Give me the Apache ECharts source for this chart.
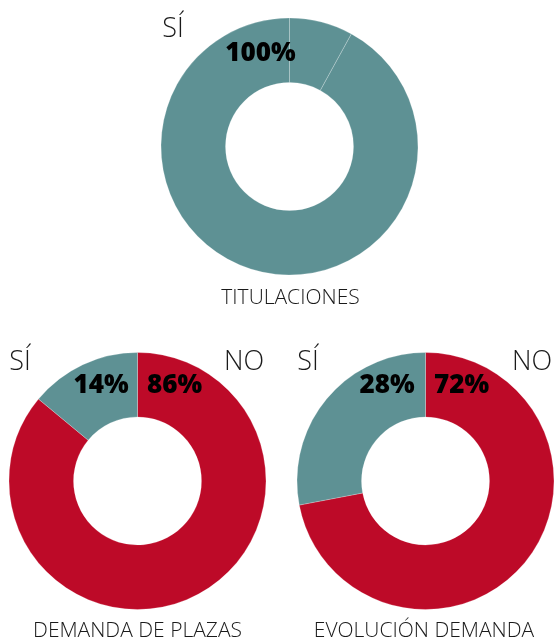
<!DOCTYPE html>
<html>
<head>
<meta charset="utf-8">
<script src="https://cdn.jsdelivr.net/npm/echarts@6/dist/echarts.min.js"></script>
<style>
  html, body { margin: 0; padding: 0; background: #fff; }
  #main { width: 554px; height: 641px; }
</style>
</head>
<body>
<div id="main"></div>
<script>
// datos de los tres anillos
var titles = ['TITULACIONES', 'DEMANDA DE PLAZAS', 'EVOLUCIÓN DEMANDA'];
var titulacionesValues = [8, 92];          // dos tramos, ambos "SÍ"
var demandaPlazas = { no: 86, si: 14 };
var evolucionDemanda = { no: 72, si: 28 };

var TEAL = '#5e9194';
var RED = '#bd0a28';
var FONT = '"Open Sans", "Noto Sans", sans-serif';

var chart = echarts.init(document.getElementById('main'));

function ring(center, data) {
  return {
    type: 'pie',
    center: center,
    radius: [64, 128.5],
    startAngle: 90,
    clockwise: true,
    silent: true,
    label: { show: false },
    labelLine: { show: false },
    itemStyle: { borderColor: 'rgba(255,255,255,0.45)', borderWidth: 0.5 },
    data: data
  };
}

function txt(x, y, text, size, weight) {
  return {
    type: 'text', x: x, y: y, z: 100,
    style: {
      text: text, fill: weight === '300' ? '#1a1a1a' : '#000',
      font: weight + ' ' + size + 'px ' + FONT,
      textAlign: 'center', textVerticalAlign: 'middle'
    }
  };
}

var topTotal = titulacionesValues.reduce(function (a, b) { return a + b; }, 0);

var option = {
  animation: false,
  series: [
    ring([289.5, 146.5], titulacionesValues.map(function (v) {
      return { value: v, name: 'SÍ', itemStyle: { color: TEAL } };
    })),
    ring([137.5, 481], [
      { value: demandaPlazas.no, name: 'NO', itemStyle: { color: RED } },
      { value: demandaPlazas.si, name: 'SÍ', itemStyle: { color: TEAL } }
    ]),
    ring([425.5, 481], [
      { value: evolucionDemanda.no, name: 'NO', itemStyle: { color: RED } },
      { value: evolucionDemanda.si, name: 'SÍ', itemStyle: { color: TEAL } }
    ])
  ],
  graphic: [
    txt(173, 29, 'SÍ', 27, '300'),
    txt(260.5, 54, topTotal + '%', 26, '800'),
    txt(290.5, 298, titles[0], 21, '300'),

    txt(20, 362, 'SÍ', 27, '300'),
    txt(101, 386, demandaPlazas.si + '%', 26, '800'),
    txt(174.5, 386, demandaPlazas.no + '%', 26, '800'),
    txt(244, 362, 'NO', 27, '300'),
    txt(137.5, 631, titles[1], 21, '300'),

    txt(308, 362, 'SÍ', 27, '300'),
    txt(387, 386, evolucionDemanda.si + '%', 26, '800'),
    txt(461.5, 386, evolucionDemanda.no + '%', 26, '800'),
    txt(532, 362, 'NO', 27, '300'),
    txt(424, 631, titles[2], 21, '300')
  ]
};

chart.setOption(option);
</script>
</body>
</html>
